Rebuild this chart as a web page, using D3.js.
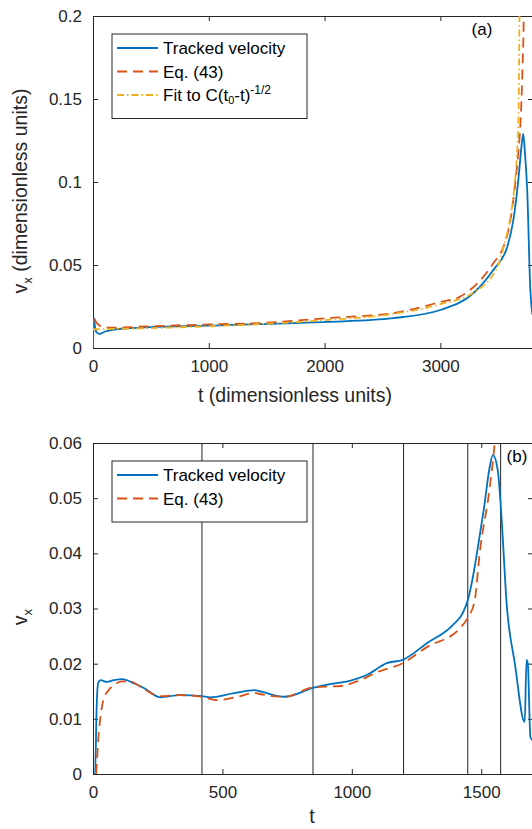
<!DOCTYPE html>
<html>
<head>
<meta charset="utf-8">
<script src="https://cdn.jsdelivr.net/npm/d3@7"></script>
<style>
  body { margin: 0; background: #fff; }
  svg { display: block; font-family: "Liberation Sans", Arial, sans-serif; }
  .tick text { fill: #262626; font-size: 17px; }
  .axis path, .axis line { stroke: #262626; }
</style>
</head>
<body>
<div id="chart"></div>
<script>
// ---- panel (a) data ----
var aTimeBlue = [0, 3, 8, 15, 30, 55, 100, 200, 320, 500, 1000, 1443, 2020, 2593, 3000, 3284, 3457, 3578, 3630, 3673, 3700, 3716, 3730, 3750, 3777, 3795];
var aBlue     = [0, 0.012, 0.018, 0.014, 0.0095, 0.0085, 0.0098, 0.0112, 0.012, 0.0126, 0.0135, 0.0144, 0.0157, 0.018, 0.0229, 0.033, 0.047, 0.061, 0.077, 0.101, 0.121, 0.129, 0.118, 0.095, 0.035, 0.02];

var aTimeEq = [0, 5, 10, 20, 40, 70, 100, 200, 500, 1000, 1443, 2020, 2593, 3000, 3172, 3457, 3550, 3600, 3640, 3670, 3695, 3710, 3720, 3726];
var aEq     = [0.011, 0.019, 0.0185, 0.0165, 0.0145, 0.0128, 0.0122, 0.0123, 0.0131, 0.0142, 0.015, 0.018, 0.021, 0.0277, 0.031, 0.051, 0.062, 0.075, 0.095, 0.115, 0.14, 0.17, 0.2, 0.25];

var aTimeFit = [0, 500, 1000, 1500, 2000, 2500, 3000, 3300, 3500, 3550, 3600, 3640, 3660, 3675, 3683, 3688];
var aFit     = [0.0113, 0.012, 0.0131, 0.0146, 0.0168, 0.0197, 0.0264, 0.034, 0.05, 0.062, 0.077, 0.097, 0.115, 0.14, 0.2, 0.26];

var aTicksX = [0, 1000, 2000, 3000];
var aTicksY = [0, 0.05, 0.1, 0.15, 0.2];

// ---- panel (b) data ----
var bTimeBlue = [5, 8, 14, 20, 30, 54, 80, 112, 160, 200, 259, 336, 421, 452, 540, 625, 645, 741, 850, 915, 992, 1060, 1135, 1197, 1290, 1390, 1430, 1448, 1467, 1490, 1510, 1533, 1545, 1564, 1579, 1598, 1630, 1668, 1675, 1680, 1690, 1700];
var bBlue     = [0, 0, 0.012, 0.0165, 0.017, 0.0167, 0.017, 0.0172, 0.0164, 0.0155, 0.0139, 0.0143, 0.0141, 0.0139, 0.0146, 0.0152, 0.015, 0.014, 0.0156, 0.0163, 0.0169, 0.018, 0.0201, 0.0207, 0.0237, 0.027, 0.0293, 0.0315, 0.0355, 0.042, 0.048, 0.0557, 0.0578, 0.055, 0.046, 0.031, 0.02, 0.0094, 0.0207, 0.02, 0.0067, 0.006];

var bTimeEq = [12, 16, 20, 28, 40, 60, 78, 112, 140, 200, 259, 336, 421, 478, 560, 625, 645, 741, 850, 965, 1031, 1100, 1197, 1290, 1417, 1448, 1475, 1494, 1533, 1552, 1565];
var bEq     = [0, 0.003, 0.006, 0.01, 0.0134, 0.0152, 0.016, 0.0168, 0.0168, 0.0153, 0.0141, 0.0143, 0.014, 0.0134, 0.014, 0.0147, 0.0145, 0.014, 0.0157, 0.016, 0.017, 0.0185, 0.0201, 0.023, 0.0264, 0.0283, 0.0315, 0.04, 0.052, 0.06, 0.068];

var bLines  = [421, 850, 1200, 1448, 1575];
var bTicksX = [0, 500, 1000, 1500];
var bTicksY = [0, 0.01, 0.02, 0.03, 0.04, 0.05, 0.06];

var blue = "#0072BD", red = "#D95319", yellow = "#EDB120";

var width = 532, height = 829;

var svg = d3.select("#chart")
  .append("svg")
  .attr("width", width)
  .attr("height", height);

function zip(xs, ys) {
  return xs.map(function(x, i) { return [x, ys[i]]; });
}

function drawPanel(p) {
  var x = d3.scaleLinear().domain(p.xDomain).range([p.left, p.right]);
  var y = d3.scaleLinear().domain(p.yDomain).range([p.bottom, p.top]);

  var clipId = "clip-" + p.name;
  svg.append("clipPath").attr("id", clipId)
    .append("rect")
    .attr("x", p.left).attr("y", p.top)
    .attr("width", p.right - p.left).attr("height", p.bottom - p.top);

  var g = svg.append("g");

  // axes, ticks inward on all four sides
  g.append("g").attr("class", "axis")
    .attr("transform", "translate(0," + p.bottom + ")")
    .call(d3.axisBottom(x).tickValues(p.ticksX).tickSize(-5).tickPadding(12).tickFormat(d3.format("d")).tickSizeOuter(0))
    .call(function(s) { s.selectAll("text").attr("dy", "0.71em"); });
  g.append("g").attr("class", "axis")
    .attr("transform", "translate(0," + p.top + ")")
    .call(d3.axisTop(x).tickValues(p.ticksX).tickSize(-5).tickFormat("").tickSizeOuter(0));
  g.append("g").attr("class", "axis")
    .attr("transform", "translate(" + p.left + ",0)")
    .call(d3.axisLeft(y).tickValues(p.ticksY).tickSize(-5).tickPadding(11).tickFormat(d3.format("~g")).tickSizeOuter(0));
  g.append("g").attr("class", "axis")
    .attr("transform", "translate(" + p.right + ",0)")
    .call(d3.axisRight(y).tickValues(p.ticksY).tickSize(-5).tickFormat("").tickSizeOuter(0));

  var plot = g.append("g").attr("clip-path", "url(#" + clipId + ")");

  (p.vlines || []).forEach(function(v) {
    plot.append("line")
      .attr("x1", x(v)).attr("x2", x(v))
      .attr("y1", p.top).attr("y2", p.bottom)
      .attr("stroke", "#222").attr("stroke-width", 1);
  });

  var line = d3.line()
    .x(function(d) { return x(d[0]); })
    .y(function(d) { return y(d[1]); })
    .curve(d3.curveMonotoneX);

  p.series.forEach(function(s) {
    plot.append("path")
      .datum(zip(s.t, s.v))
      .attr("d", line)
      .attr("fill", "none")
      .attr("stroke", s.color)
      .attr("stroke-width", 1.8)
      .attr("stroke-dasharray", s.dash || null);
  });

  // legend
  var lg = g.append("g");
  lg.append("rect")
    .attr("x", p.legend[0]).attr("y", p.legend[1])
    .attr("width", 195).attr("height", 14 + 23.5 * p.series.length)
    .attr("fill", "#fff").attr("stroke", "#262626").attr("stroke-width", 1);
  p.series.forEach(function(s, i) {
    var ly = p.legend[1] + 14 + 23.5 * i;
    lg.append("line")
      .attr("x1", p.legend[0] + 5).attr("x2", p.legend[0] + 46)
      .attr("y1", ly).attr("y2", ly)
      .attr("stroke", s.color).attr("stroke-width", 1.8)
      .attr("stroke-dasharray", s.dash || null);
    var t = lg.append("text")
      .attr("x", p.legend[0] + 51).attr("y", ly + 6)
      .attr("font-size", 17).attr("fill", "#000");
    s.label(t);
  });

  // panel letter
  svg.append("text")
    .attr("x", p.letter[0]).attr("y", p.letter[1])
    .attr("text-anchor", "middle")
    .attr("font-size", 17)
    .text(p.name === "a" ? "(a)" : "(b)");

  // axis labels
  svg.append("text")
    .attr("x", p.xLabelPos[0]).attr("y", p.xLabelPos[1])
    .attr("text-anchor", "middle")
    .attr("font-size", 19.5).attr("fill", "#262626")
    .text(p.xLabel);

  var yl = svg.append("text")
    .attr("transform", "translate(" + p.yLabelPos[0] + "," + p.yLabelPos[1] + ")rotate(-90)")
    .attr("text-anchor", "middle")
    .attr("font-size", 19.5).attr("fill", "#262626");
  yl.append("tspan").text("v");
  yl.append("tspan").attr("dy", 5).attr("font-size", 13).text("x");
  if (p.yLabelRest) yl.append("tspan").attr("dy", -5).text(p.yLabelRest);
}

function plain(str) { return function(t) { t.text(str); }; }

drawPanel({
  name: "a",
  left: 93, right: 533, top: 16, bottom: 348,
  xDomain: [0, 3800], yDomain: [0, 0.2],
  ticksX: aTicksX, ticksY: aTicksY,
  series: [
    { t: aTimeBlue, v: aBlue, color: blue, label: plain("Tracked velocity") },
    { t: aTimeEq, v: aEq, color: red, dash: "10,6", label: plain("Eq. (43)") },
    { t: aTimeFit, v: aFit, color: yellow, dash: "7,3,1.5,3", label: function(t) {
        t.append("tspan").text("Fit to C(t");
        t.append("tspan").attr("font-size", 11).attr("dy", 3).text("0");
        t.append("tspan").attr("dy", -3).text("-t)");
        t.append("tspan").attr("font-size", 12).attr("dy", -7).text("-1/2");
      } }
  ],
  legend: [112, 34],
  letter: [482, 35],
  xLabel: "t (dimensionless units)", xLabelPos: [295, 402],
  yLabelPos: [27, 191], yLabelRest: " (dimensionless units)"
});

drawPanel({
  name: "b",
  left: 93, right: 533, top: 443, bottom: 774,
  xDomain: [0, 1700], yDomain: [0, 0.06],
  ticksX: bTicksX, ticksY: bTicksY,
  vlines: bLines,
  series: [
    { t: bTimeBlue, v: bBlue, color: blue, label: plain("Tracked velocity") },
    { t: bTimeEq, v: bEq, color: red, dash: "10,6", label: plain("Eq. (43)") }
  ],
  legend: [112, 461],
  letter: [517, 462],
  xLabel: "t", xLabelPos: [312, 823],
  yLabelPos: [27, 617]
});
</script>
</body>
</html>
